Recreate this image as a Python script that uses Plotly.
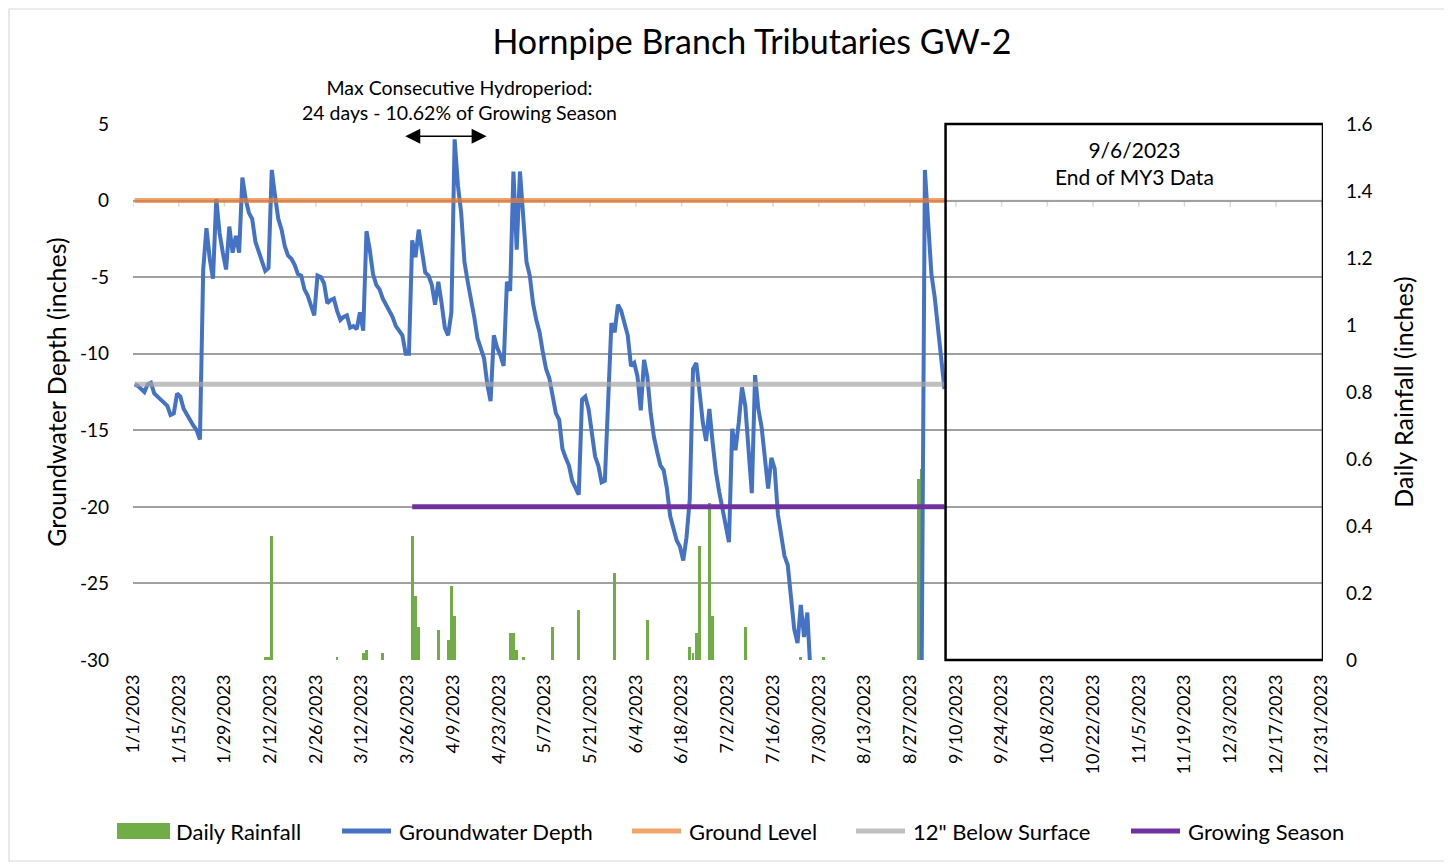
import pandas as pd
import plotly.graph_objects as go

# groundwater depth (inches below surface), one reading per day from 1/1/2023 to 9/6/2023
gw_start = "2023-01-01"
gw_depth = [
    -12.0, -12.1, -12.3, -12.5, -12.0, -11.9, -12.6, -12.8, -13.0, -13.2,
    -13.4, -14.0, -13.9, -12.6, -12.8, -13.6, -14.0, -14.4, -14.7, -15.0,
    -15.6, -4.5, -1.8, -3.8, -5.1, 0.1, -2.1, -3.4, -4.5, -1.7,
    -3.4, -2.3, -3.4, 1.5, 0.1, -0.8, -1.2, -2.7, -3.4, -4.0,
    -4.6, -4.4, 2.0, 0.3, -1.2, -1.9, -3.0, -3.6, -3.8, -4.2,
    -4.8, -4.9, -5.8, -6.2, -6.8, -7.5, -4.9, -5.0, -5.4, -6.7,
    -6.5, -6.4, -7.2, -7.8, -7.6, -7.5, -8.3, -8.2, -8.4, -7.3,
    -8.5, -2.0, -3.2, -4.8, -5.5, -5.8, -6.4, -6.8, -7.2, -7.6,
    -8.2, -8.5, -8.8, -10.0, -10.0, -2.6, -3.7, -1.9, -3.4, -4.7,
    -4.9, -5.5, -6.8, -5.3, -6.7, -8.3, -8.8, -7.3, 4.0, 1.0,
    -0.8, -4.0, -5.3, -6.4, -7.6, -9.0, -9.7, -10.3, -12.0, -13.1,
    -8.8, -9.6, -10.1, -10.8, -5.3, -5.9, 1.9, -3.2, 1.9, -1.0,
    -4.0, -4.9, -6.7, -7.8, -8.6, -9.9, -11.0, -11.6, -12.9, -13.9,
    -14.3, -16.2, -16.8, -17.3, -18.3, -18.8, -19.2, -13.0, -12.8, -13.6,
    -15.0, -16.7, -17.3, -18.4, -18.3, -13.6, -8.0, -8.6, -6.8, -7.2,
    -7.9, -8.8, -10.8, -10.6, -11.5, -13.7, -10.4, -11.5, -13.8, -15.4,
    -16.4, -17.3, -17.6, -18.8, -20.6, -21.4, -22.2, -22.6, -23.5, -22.0,
    -19.5, -11.0, -10.6, -12.5, -14.5, -15.7, -13.6, -15.8, -17.7, -19.0,
    -20.1, -21.4, -22.3, -14.9, -16.3, -14.5, -12.2, -13.4, -16.0, -19.1,
    -11.4, -13.6, -14.8, -17.1, -18.8, -16.8, -17.5, -20.5, -21.9, -23.2,
    -23.8, -26.0, -28.0, -28.9, -26.4, -28.5, -26.9, -31.0, -31.0, -31.0,
    -31.0, -31.0, -31.0, -31.0, -31.0, -31.0, -31.0, -31.0, -31.0, -31.0,
    -31.0, -31.0, -31.0, -31.0, -31.0, -31.0, -31.0, -31.0, -31.0, -31.0,
    -31.0, -31.0, -31.0, -31.0, -31.0, -31.0, -31.0, -31.0, -31.0, -31.0,
    -31.0, -31.0, 2.0, -2.0, -4.8, -6.3, -8.4, -10.2, -12.3,
]

# daily rainfall (inches)
rain_dates = [
    "2023-02-10", "2023-02-11", "2023-02-12", "2023-03-04", "2023-03-12",
    "2023-03-13", "2023-03-18", "2023-03-27", "2023-03-28", "2023-03-29",
    "2023-04-04", "2023-04-07", "2023-04-08", "2023-04-09", "2023-04-26",
    "2023-04-27", "2023-04-28", "2023-04-30", "2023-05-09", "2023-05-17",
    "2023-05-28", "2023-06-07", "2023-06-20", "2023-06-21", "2023-06-22",
    "2023-06-23", "2023-06-26", "2023-06-27", "2023-07-07", "2023-07-24",
    "2023-07-31", "2023-08-29", "2023-08-30",
]
rain_in = [
    0.01, 0.01, 0.37, 0.01, 0.02,
    0.03, 0.02, 0.37, 0.19, 0.10,
    0.09, 0.06, 0.22, 0.13, 0.08,
    0.08, 0.03, 0.01, 0.10, 0.15,
    0.26, 0.12, 0.04, 0.02, 0.08,
    0.34, 0.47, 0.13, 0.10, 0.01,
    0.01, 0.54, 0.57,
]

ground_dates = ["2023-01-01", "2023-09-06"]
ground_level = [0, 0]
below_dates = ["2023-01-01", "2023-09-06"]
below_12 = [-12, -12]
season_dates = ["2023-03-27", "2023-09-06"]
growing_season = [-20, -20]

gw_ticks = [5, 0, -5, -10, -15, -20, -25, -30]
rain_ticks = [0, 0.2, 0.4, 0.6, 0.8, 1, 1.2, 1.4, 1.6]
tick_dates = pd.date_range("2023-01-01", "2023-12-31", freq="14D")
tick_text = [f"{d.month}/{d.day}/{d.year}" for d in tick_dates]

x_start = pd.Timestamp("2023-01-01")
x_end = pd.Timestamp("2023-12-31 10:00")
data_end = pd.Timestamp("2023-09-06 20:00")

half_day = pd.Timedelta(hours=12)  # excel centres each day between tick marks
gw_x = pd.date_range(gw_start, periods=len(gw_depth), freq="D") + half_day
rain_x = pd.to_datetime(rain_dates) + half_day

FONT = "Lato"
GREEN, BLUE = "#70ad47", "#4472c4"
ORANGE, GREY, PURPLE = "rgba(237,125,49,0.7)", "rgba(165,165,165,0.7)", "#7030a0"

# plot area is 1190 x 536 px; helpers to place things in paper units from pixel offsets
PW, PH = 1190.0, 536.0
def px(x):
    return (x - 133) / PW
def py(y):
    return (660 - y) / PH

fig = go.Figure()

fig.add_trace(go.Bar(x=rain_x, y=rain_in, name="Daily Rainfall", marker_color=GREEN,
                     marker_line_width=0, width=0.85 * 86400000, yaxis="y"))
fig.add_trace(go.Scatter(x=gw_x, y=gw_depth, mode="lines", name="Groundwater Depth",
                         line=dict(color=BLUE, width=4), yaxis="y2"))
fig.add_trace(go.Scatter(x=pd.to_datetime(ground_dates) + half_day, y=ground_level, mode="lines",
                         name="Ground Level", line=dict(color=ORANGE, width=5), yaxis="y2"))
fig.add_trace(go.Scatter(x=pd.to_datetime(below_dates) + half_day, y=below_12, mode="lines",
                         name="12\" Below Surface", line=dict(color=GREY, width=5), yaxis="y2"))
fig.add_trace(go.Scatter(x=pd.to_datetime(season_dates) + half_day, y=growing_season, mode="lines",
                         name="Growing Season", line=dict(color=PURPLE, width=5), yaxis="y2"))

shapes = []
# horizontal date axis crosses at 0
shapes.append(dict(type="line", xref="paper", yref="y2", x0=0, x1=1, y0=0, y1=0,
                   line=dict(color="#d9d9d9", width=1.5), layer="below"))
for d in tick_dates:
    shapes.append(dict(type="line", xref="x", yref="y2", x0=d, x1=d, y0=0, y1=-0.4,
                       line=dict(color="#d9d9d9", width=1.5), layer="below"))
# end of data box
shapes.append(dict(type="rect", xref="x", yref="paper", x0=data_end, x1=x_end, y0=0, y1=1,
                   line=dict(color="black", width=2.5), layer="above"))
# chart border
shapes.append(dict(type="rect", xref="paper", yref="paper", x0=px(9), x1=px(1445.5), y0=py(861), y1=py(9),
                   line=dict(color="#d9d9d9", width=1.2), layer="below"))

annotations = [
    dict(xref="paper", yref="paper", x=px(1134.5), y=py(163), xanchor="center", yanchor="middle",
         showarrow=False, text="9/6/2023<br>End of MY3 Data",
         font=dict(family=FONT, size=21, color="black")),
    dict(xref="paper", yref="paper", x=px(459), y=py(100), xanchor="center", yanchor="middle",
         showarrow=False, text="Max Consecutive Hydroperiod:<br>24 days - 10.62% of Growing Season",
         font=dict(family=FONT, size=19.5, color="black")),
    dict(xref="x", yref="y2", x=pd.Timestamp("2023-04-19 07:00"), y=4.2,
         axref="x", ayref="y2", ax=pd.Timestamp("2023-03-24 22:00"), ay=4.2,
         text="", showarrow=True, arrowhead=2, startarrowhead=2, arrowside="end+start",
         arrowsize=2, startarrowsize=2, arrowwidth=1.5, arrowcolor="black"),
]

# legend drawn as in the workbook: wide swatches, evenly gapped entries along the bottom
legend_left = [117, 340, 630, 854, 1129]
legend_y = 831
for trace, lx in zip(fig.data, legend_left):
    if trace.type == "bar":
        shapes.append(dict(type="rect", xref="paper", yref="paper", x0=px(lx), x1=px(lx + 53),
                           y0=py(legend_y + 8), y1=py(legend_y - 8), fillcolor=GREEN,
                           line=dict(width=0)))
    else:
        shapes.append(dict(type="line", xref="paper", yref="paper", x0=px(lx + 2), x1=px(lx + 51),
                           y0=py(legend_y), y1=py(legend_y),
                           line=dict(color=trace.line.color, width=5)))
    annotations.append(dict(xref="paper", yref="paper", x=px(lx + 57), y=py(legend_y),
                            xanchor="left", yanchor="middle", showarrow=False, text=trace.name,
                            font=dict(family=FONT, size=22, color="black")))

fig.update_layout(
    width=1444, height=859,
    margin=dict(l=125, r=129, t=116, b=207),
    paper_bgcolor="white", plot_bgcolor="white",
    font=dict(family=FONT, color="black"),
    title=dict(text="Hornpipe Branch Tributaries GW-2", x=0.5152, xanchor="center",
               y=0.9604, yanchor="middle", font=dict(family=FONT, size=34, color="black")),
    xaxis=dict(type="date", range=[x_start, x_end], tickvals=tick_dates, ticktext=tick_text,
               tickangle=-90, tickfont=dict(size=18), showgrid=False, zeroline=False,
               showline=False, ticks="", ticklabelstandoff=10),
    yaxis=dict(side="right", range=[0, 1.6], tickvals=rain_ticks, showgrid=False, zeroline=False,
               tickfont=dict(size=19), ticks="", ticklabelstandoff=22,
               title=dict(text="Daily Rainfall (inches)", font=dict(size=25), standoff=23)),
    yaxis2=dict(overlaying="y", side="left", range=[-30, 5], tickvals=gw_ticks,
                ticktext=[str(v) for v in gw_ticks], showgrid=True, gridcolor="#a0a0a0",
                gridwidth=1.5, zeroline=False, tickfont=dict(size=19), ticks="",
                ticklabelstandoff=23,
                title=dict(text="Groundwater Depth (inches)", font=dict(size=25), standoff=6)),
    bargap=0,
    shapes=shapes,
    annotations=annotations,
    showlegend=False,
)

fig.write_html("out.html")
